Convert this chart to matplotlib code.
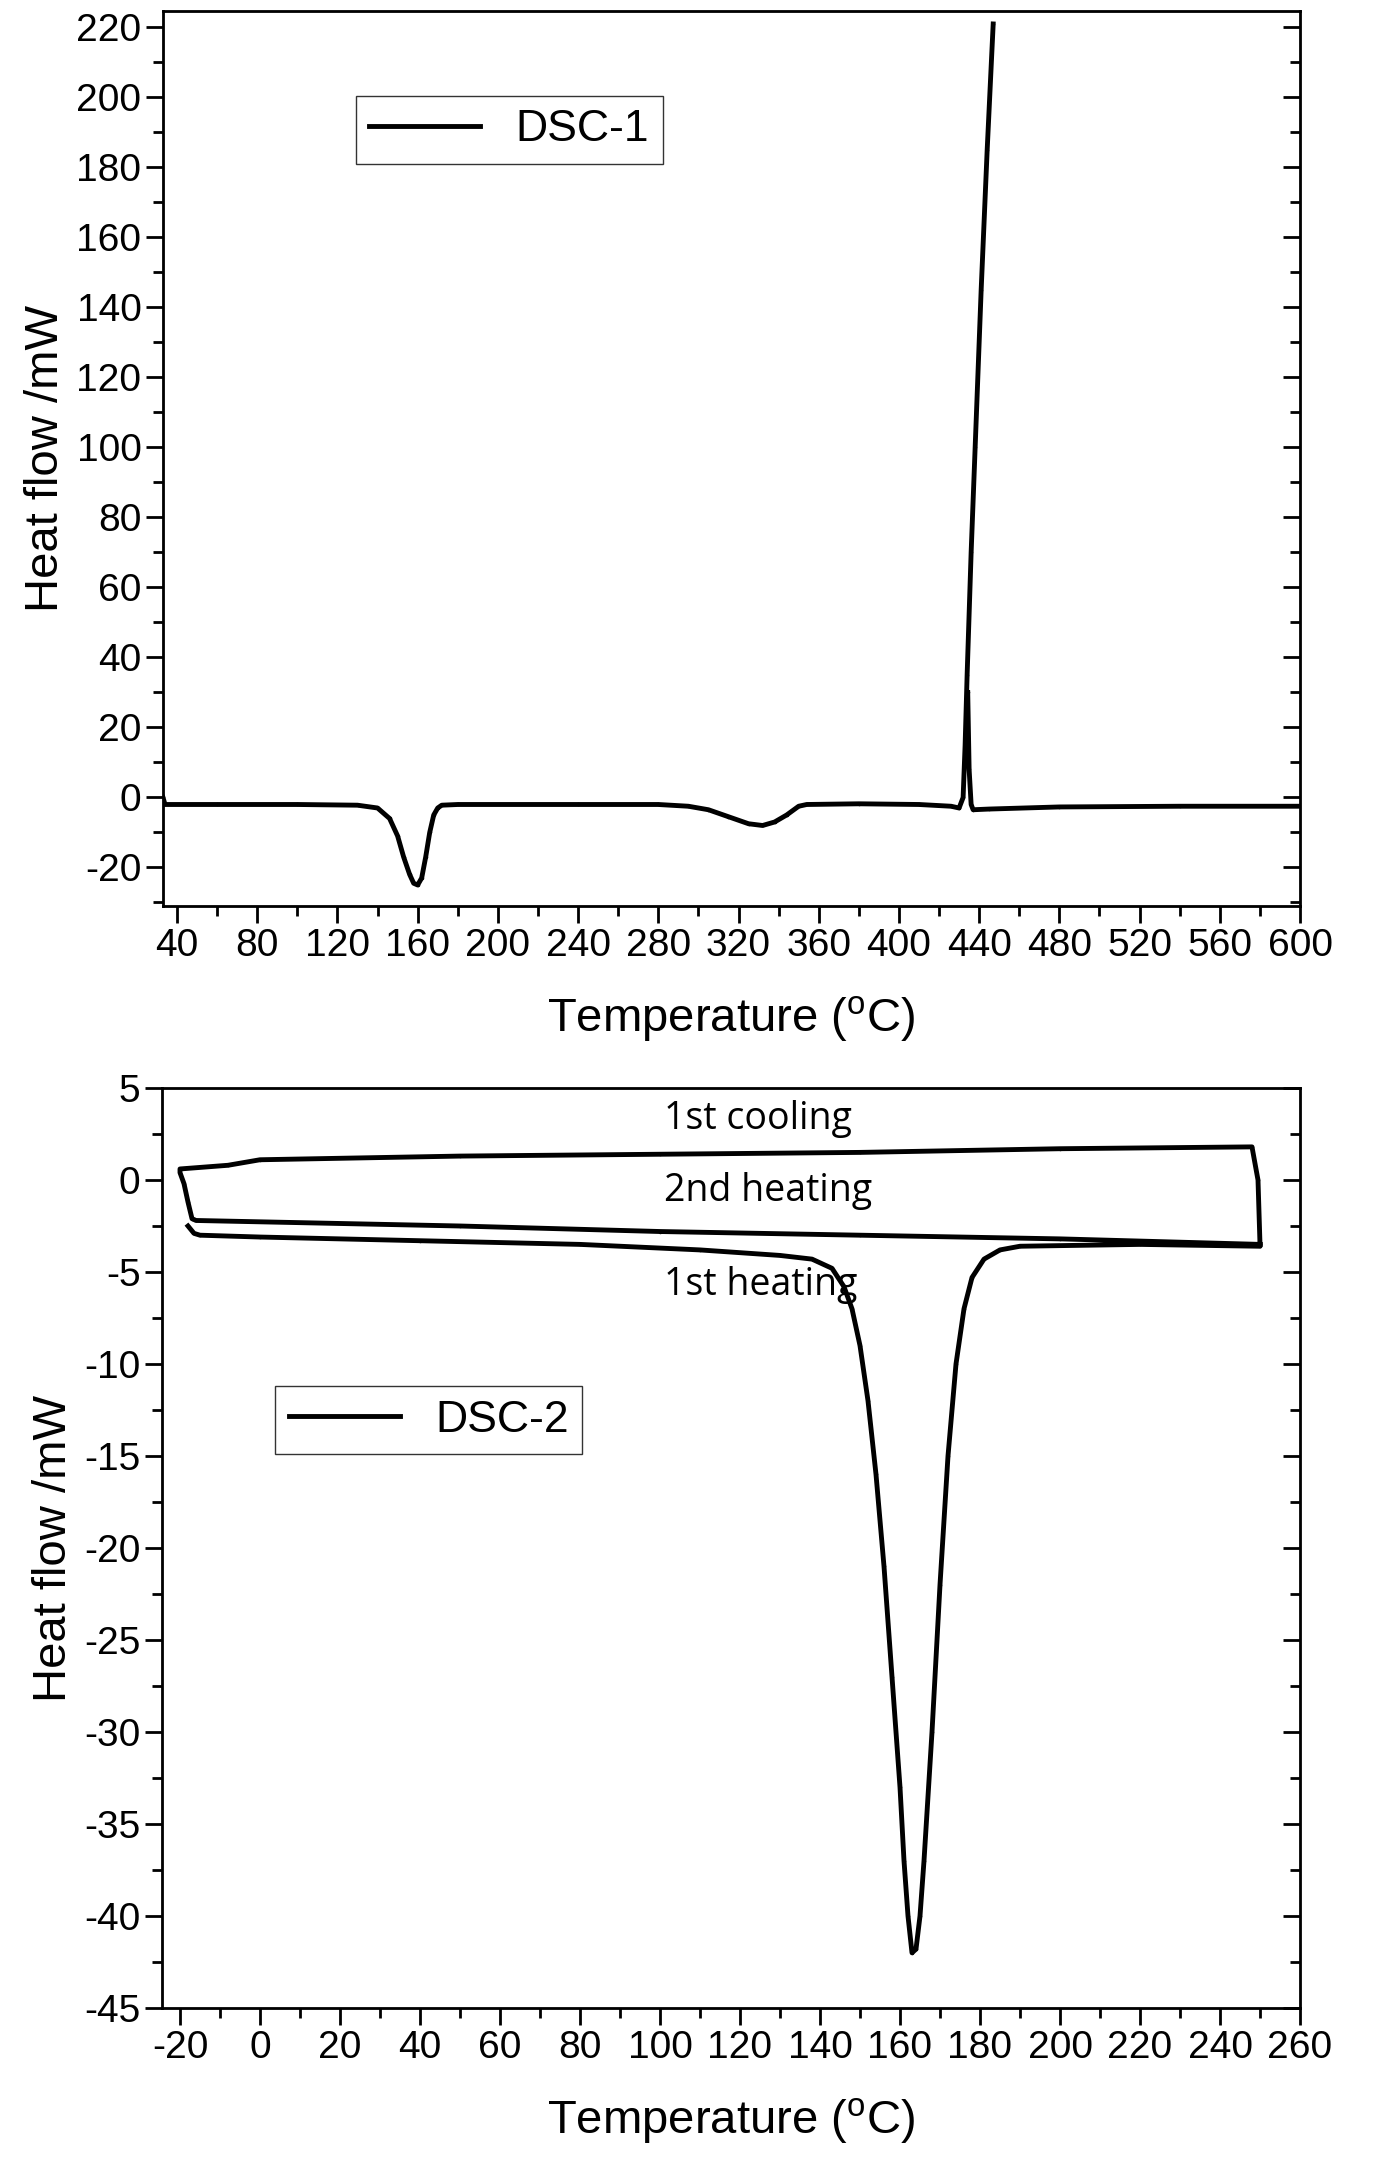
import numpy as np
import matplotlib.pyplot as plt
from matplotlib.ticker import MultipleLocator

plt.rcParams['font.family'] = ['Liberation Sans', 'DejaVu Sans']
plt.rcParams['mathtext.default'] = 'regular'
plt.rcParams['axes.unicode_minus'] = False

# DSC-1 (temperature, heat flow)
t1 = [33, 34, 60, 100, 130, 140, 146, 150, 153, 156, 158, 160, 162, 164, 166, 168, 170, 172, 180, 240, 280,
      295, 305, 315, 325, 332, 338, 344, 350, 354, 380, 410, 426, 430, 432, 433, 434, 436,
      438, 441, 444, 447, np.nan, 434.3, 435, 436, 437, 445, 480, 540, 600]
h1 = [0, -2, -2, -2, -2.2, -3, -6, -11, -17, -22, -24.5, -25, -23, -17, -10, -5, -3, -2.2, -2, -2, -2,
      -2.5, -3.5, -5.5, -7.5, -8, -7, -5, -2.5, -2, -1.8, -2, -2.5, -3, 0, 15, 35, 70,
      100, 145, 185, 221, np.nan, 30, 8, -2, -3.5, -3.3, -2.7, -2.5, -2.5]

# DSC-2 loop: 1st heating, 1st cooling, 2nd heating
t2 = [-18, -16.5, -15, 0, 40, 80, 110, 130, 138, 143, 146, 148, 150, 152, 154, 156, 158, 160, 161, 162, 163,
      164, 165, 166, 168, 170, 172, 174, 176, 178, 181, 185, 190, 220, 250,
      250, 249.5, 248, 200, 150, 100, 50, 0, -8, -20,
      -20, -19, -18, -17, -16, 50, 100, 150, 200, 250]
h2 = [-2.5, -2.9, -3.0, -3.1, -3.3, -3.5, -3.8, -4.1, -4.3, -4.8, -5.8, -7, -9, -12, -16, -21, -27, -33, -37, -40, -42,
      -41.8, -40, -37, -30, -22, -15, -10, -7, -5.3, -4.3, -3.8, -3.6, -3.5, -3.6,
      -3.5, 0, 1.8, 1.7, 1.5, 1.4, 1.3, 1.1, 0.8, 0.6,
      0.4, -0.2, -1.2, -2.1, -2.2, -2.5, -2.8, -3.0, -3.2, -3.5]

fig = plt.figure(figsize=(13.73, 21.83), dpi=100)
ax1 = fig.add_axes([163 / 1373, 1 - 906 / 2183, 1137 / 1373, 895 / 2183])
ax2 = fig.add_axes([162 / 1373, 1 - 2008 / 2183, 1138 / 1373, 920 / 2183])


def style(ax, xlim, ylim, xmaj, xmin, ymaj, ymin):
    ax.set_xlim(*xlim)
    ax.set_ylim(*ylim)
    ax.xaxis.set_major_locator(MultipleLocator(xmaj))
    ax.xaxis.set_minor_locator(MultipleLocator(xmin))
    ax.yaxis.set_major_locator(MultipleLocator(ymaj))
    ax.yaxis.set_minor_locator(MultipleLocator(ymin))
    ax.tick_params(which='both', direction='out', labelsize=28, width=2, top=False)
    ax.tick_params(which='major', length=12)
    ax.tick_params(which='minor', length=7)
    for s in ax.spines.values():
        s.set_linewidth(2)
    r = ax.twinx()
    r.set_ylim(*ylim)
    r.yaxis.set_major_locator(MultipleLocator(ymaj))
    r.yaxis.set_minor_locator(MultipleLocator(ymin))
    r.tick_params(which='both', direction='in', width=2, labelright=False)
    r.tick_params(which='major', length=12)
    r.tick_params(which='minor', length=7)
    ax.set_xlabel('Temperature ($^{o}$C)', fontsize=34, labelpad=22)
    ax.set_ylabel('Heat flow /mW', fontsize=34, labelpad=6)


ax1.plot(t1, h1, color='black', lw=3.5, marker='.', ms=3, label='DSC-1')
style(ax1, (33, 600), (-31, 224.7), 40, 20, 20, 10)
ax1.legend(loc='upper left', bbox_to_anchor=(0.15, 0.93), fontsize=32, fancybox=False,
           edgecolor='black', handlelength=2.5, borderpad=0.3, markerscale=0.5)

ax2.plot(t2, h2, color='black', lw=3.5, marker='.', ms=3, label='DSC-2')
style(ax2, (-24.5, 260), (-45, 5), 20, 10, 5, 2.5)
ax2.legend(loc='upper left', bbox_to_anchor=(0.08, 0.7), fontsize=32, fancybox=False,
           edgecolor='black', handlelength=2.5, borderpad=0.3, markerscale=0.5)
for x, y, s in [(101, 3.3, '1st cooling'), (101, -0.6, '2nd heating'), (101, -5.7, '1st heating')]:
    ax2.text(x, y, s, fontsize=27, family='Open Sans', ha='left', va='center')

fig.savefig('out.png', dpi=100)
